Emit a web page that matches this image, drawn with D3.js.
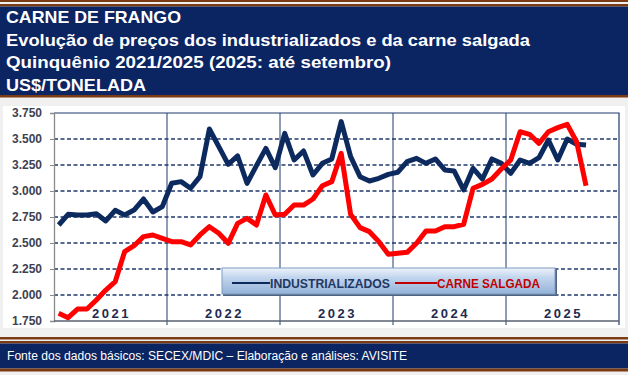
<!DOCTYPE html>
<html>
<head>
<meta charset="utf-8">
<script src="https://cdn.jsdelivr.net/npm/d3@7"></script>
<style>
  body { margin: 0; background: #f0f0f0; }
  svg { display: block; font-family: "Liberation Sans", Arial, sans-serif; }
</style>
</head>
<body>
<svg id="chart"></svg>
<script>
// monthly prices, US$/t, jan/2021 .. set/2025
const years = ['2021', '2022', '2023', '2024', '2025'];
const yTicks = [1750, 2000, 2250, 2500, 2750, 3000, 3250, 3500, 3750];

const industrializados = [
  2673, 2776, 2770, 2770, 2782, 2712, 2814, 2770, 2817, 2923, 2798, 2850,
  3074, 3090, 3026, 3138, 3596, 3426, 3256, 3337, 3074, 3244, 3410, 3224,
  3554, 3298, 3385, 3154, 3266, 3308, 3667, 3330, 3138, 3096, 3122, 3160,
  3180, 3282, 3314, 3266, 3308, 3202, 3192, 3010, 3218, 3115, 3308, 3266,
  3170, 3298, 3266, 3320, 3490, 3298, 3500, 3449, 3442
];
const carneSalgada = [
  1824, 1782, 1865, 1865, 1952, 2048, 2128, 2417, 2474, 2561, 2577, 2545,
  2513, 2513, 2481, 2577, 2657, 2593, 2497, 2689, 2737, 2673, 2962, 2769,
  2776, 2865, 2865, 2923, 3051, 3090, 3362, 2776, 2648, 2609, 2513, 2391,
  2401, 2410, 2497, 2615, 2615, 2657, 2657, 2680, 3026, 3064, 3115, 3211,
  3298, 3570, 3545, 3458, 3570, 3609, 3641, 3474, 3051
];

const titleLines = [
  'CARNE DE FRANGO',
  'Evolução de preços dos industrializados e da carne salgada',
  'Quinquênio 2021/2025 (2025: até setembro)',
  'US$/TONELADA'
];
const titleWidths = [175, 524, 385, 140];
const fonte = 'Fonte dos dados básicos: SECEX/MDIC – Elaboração e análises: AVISITE';

const W = 628, H = 375;
const navy = '#0b2462', brown = '#7b3a12';
const plot = {left: 54, right: 619, top: 113, bottom: 321};

const svg = d3.select('#chart').attr('width', W).attr('height', H);

svg.append('rect').attr('width', W).attr('height', H).attr('fill', '#f0f0f0');

// header band
svg.append('rect').attr('x', 0).attr('y', 0).attr('width', W).attr('height', 2).attr('fill', brown);
svg.append('rect').attr('x', 0).attr('y', 4).attr('width', W).attr('height', 2.5).attr('fill', brown);
svg.append('rect').attr('x', 0).attr('y', 6.5).attr('width', W).attr('height', 88.5).attr('fill', navy);
svg.append('rect').attr('x', 0).attr('y', 95).attr('width', W).attr('height', 2.5).attr('fill', brown);

svg.append('g').selectAll('text')
  .data(titleLines)
  .join('text')
    .attr('x', 6)
    .attr('y', (d, i) => 23 + i * 22.5)
    .attr('fill', '#fff')
    .attr('font-size', 17)
    .attr('font-weight', 'bold')
    .attr('textLength', (d, i) => titleWidths[i])
    .attr('lengthAdjust', 'spacingAndGlyphs')
    .text(d => d);

// footer band
svg.append('rect').attr('x', 0).attr('y', 337).attr('width', W).attr('height', 2.5).attr('fill', brown);
svg.append('rect').attr('x', 0).attr('y', 341).attr('width', W).attr('height', 2.5).attr('fill', brown);
svg.append('rect').attr('x', 0).attr('y', 343.5).attr('width', W).attr('height', 25).attr('fill', navy);
svg.append('rect').attr('x', 0).attr('y', 368.5).attr('width', W).attr('height', 3).attr('fill', brown);
svg.append('text')
  .attr('x', 7).attr('y', 360)
  .attr('fill', '#fff')
  .attr('font-size', 12)
  .attr('textLength', 400)
  .attr('lengthAdjust', 'spacingAndGlyphs')
  .text(fonte);

// chart area
svg.append('rect').attr('x', 3).attr('y', 106).attr('width', 622).attr('height', 222).attr('fill', '#fff');

const y = d3.scaleLinear().domain([1750, 3750]).range([plot.bottom, plot.top]);
const xYear = d3.scaleBand().domain(years).range([plot.left, plot.right]);

const fmt = d3.formatLocale({decimal: ',', thousands: '.', grouping: [3], currency: ['', '']}).format(',d');

// dashed grid
svg.append('g').selectAll('line')
  .data(yTicks.slice(1, -1))
  .join('line')
    .attr('x1', plot.left).attr('x2', plot.right)
    .attr('y1', d => y(d)).attr('y2', d => y(d))
    .attr('stroke', '#1f3a6e')
    .attr('stroke-width', 1.3)
    .attr('stroke-dasharray', '4,2.5');

// year separators
svg.append('g').selectAll('line')
  .data(years.slice(1))
  .join('line')
    .attr('x1', d => xYear(d)).attr('x2', d => xYear(d))
    .attr('y1', plot.top).attr('y2', plot.bottom + 4)
    .attr('stroke', '#1f3a6e')
    .attr('stroke-width', 1);

// frame top/right
svg.append('path')
  .attr('d', `M${plot.left},${plot.top}H${plot.right}V${plot.bottom + 4}`)
  .attr('fill', 'none').attr('stroke', '#1f3a6e').attr('stroke-width', 1.2);

// y axis
const yAxisG = svg.append('g')
  .attr('transform', `translate(${plot.left},0)`)
  .call(d3.axisLeft(y).tickValues(yTicks).tickFormat(fmt).tickSize(4).tickPadding(8));
yAxisG.select('.domain').attr('stroke', '#8a8a8a').attr('stroke-width', 1.3);
yAxisG.selectAll('.tick line').attr('stroke', '#8a8a8a');
yAxisG.selectAll('.tick text')
  .attr('fill', '#3d4250')
  .attr('font-size', 12)
  .attr('font-weight', 'bold')
  .attr('font-family', '"Liberation Sans", Arial, sans-serif');

// x axis line
svg.append('line')
  .attr('x1', plot.left).attr('x2', plot.right)
  .attr('y1', plot.bottom).attr('y2', plot.bottom)
  .attr('stroke', '#5a6172').attr('stroke-width', 1.3);

// year labels
svg.append('g').selectAll('text')
  .data(years)
  .join('text')
    .attr('x', d => xYear(d) + xYear.bandwidth() / 2 + 1)
    .attr('y', 318)
    .attr('text-anchor', 'middle')
    .attr('fill', '#1d2b4f')
    .attr('font-size', 13)
    .attr('font-weight', 'bold')
    .attr('letter-spacing', 2.5)
    .text(d => d);

// series (month i sits in the centre of its slot)
const xm = d3.scaleLinear().domain([0, 60]).range([plot.left, plot.right]);
const line = d3.line()
  .x((d, i) => xm(i + 0.5))
  .y(d => y(d));

svg.append('path')
  .datum(industrializados)
  .attr('d', line)
  .attr('fill', 'none')
  .attr('stroke', '#0d2a5e')
  .attr('stroke-width', 5)
  .attr('stroke-linejoin', 'round');

svg.append('path')
  .datum(carneSalgada)
  .attr('d', line)
  .attr('fill', 'none')
  .attr('stroke', '#ff0000')
  .attr('stroke-width', 5)
  .attr('stroke-linejoin', 'round');

// legend
const defs = svg.append('defs');
const grad = defs.append('linearGradient').attr('id', 'legGrad').attr('x1', 0).attr('y1', 0).attr('x2', 0).attr('y2', 1);
grad.append('stop').attr('offset', '0%').attr('stop-color', '#eef3fa');
grad.append('stop').attr('offset', '35%').attr('stop-color', '#c3d6ee');
grad.append('stop').attr('offset', '100%').attr('stop-color', '#93b2d8');

const leg = svg.append('g').attr('transform', 'translate(222,268)');
leg.append('rect').attr('x', 2).attr('y', 2).attr('width', 333).attr('height', 26).attr('fill', '#4f6482');
leg.append('rect').attr('width', 333).attr('height', 26).attr('fill', 'url(#legGrad)')
  .attr('stroke', '#7f9bc2').attr('stroke-width', 1);

const legendItems = [
  {name: 'INDUSTRIALIZADOS', line: '#0d2a5e', text: '#1f3864', x0: 10, len: 38, tw: 120},
  {name: 'CARNE SALGADA', line: '#c00000', text: '#c00000', x0: 173, len: 42, tw: 103}
];
legendItems.forEach(d => {
  leg.append('line')
    .attr('x1', d.x0).attr('x2', d.x0 + d.len)
    .attr('y1', 15).attr('y2', 15)
    .attr('stroke', d.line).attr('stroke-width', 2);
  leg.append('text')
    .attr('x', d.x0 + d.len).attr('y', 20)
    .attr('fill', d.text)
    .attr('font-size', 12.5)
    .attr('font-weight', 'bold')
    .attr('textLength', d.tw)
    .attr('lengthAdjust', 'spacingAndGlyphs')
    .text(d.name);
});
</script>
</body>
</html>
